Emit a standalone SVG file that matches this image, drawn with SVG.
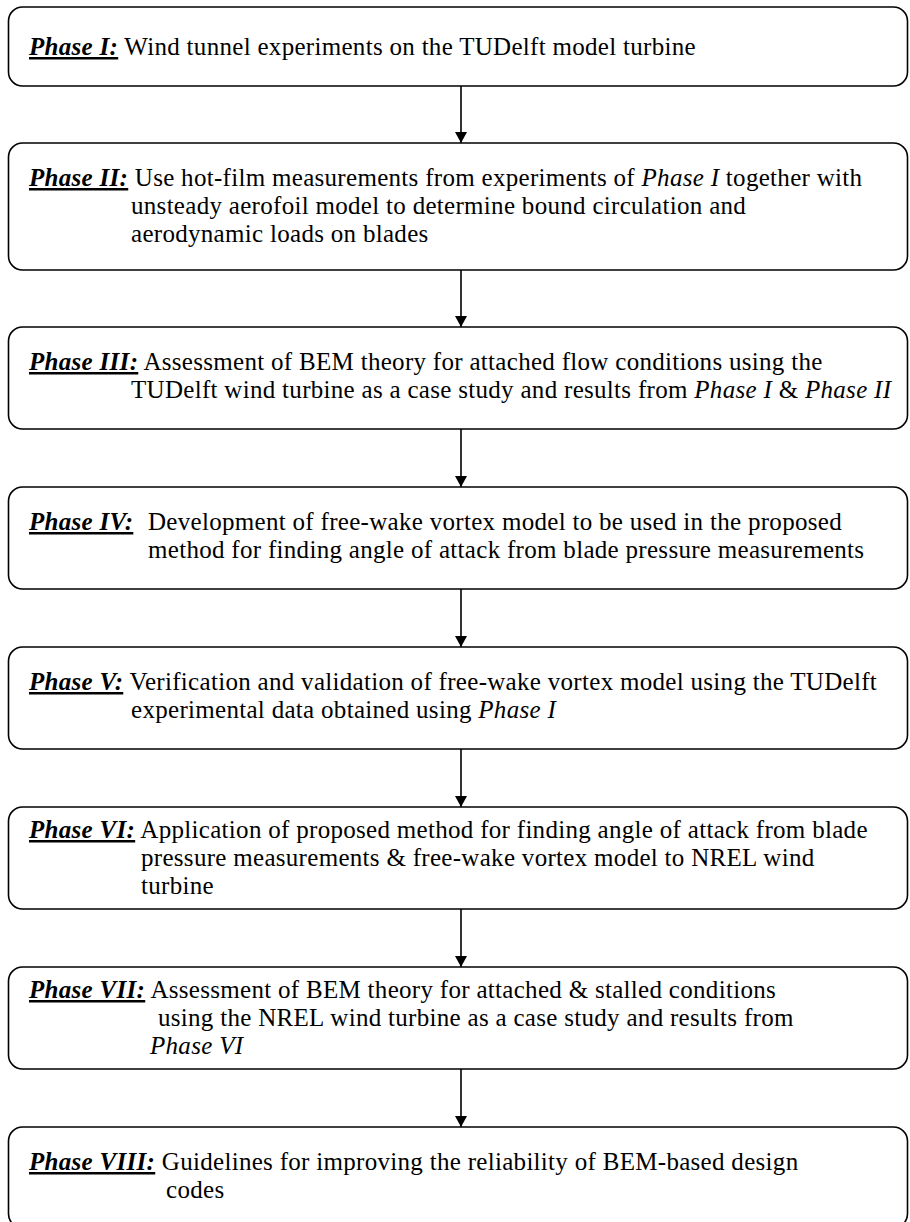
<svg xmlns="http://www.w3.org/2000/svg" width="910" height="1222" viewBox="0 0 910 1222">
<style>
.box{fill:#fff;stroke:#000;stroke-width:1.6}
.t{font-family:"Liberation Serif","Times New Roman",serif;font-size:25px;letter-spacing:0.3px;fill:#000}
.lb{font-weight:bold;font-style:italic;text-decoration:underline}
.it{font-style:italic}
.conn{stroke:#000;stroke-width:1.6;fill:none}
</style>
<defs>
<marker id="ah" markerUnits="userSpaceOnUse" markerWidth="12" markerHeight="12" viewBox="0 0 12 12" refX="11" refY="6" orient="auto">
<path d="M0,0 L11,6 L0,12 z" fill="#000"/>
</marker>
</defs>
<rect width="910" height="1222" fill="#fff"/>
<g id="connectors">
<line class="conn" x1="461" y1="86" x2="461" y2="143" marker-end="url(#ah)"/>
<line class="conn" x1="461" y1="270" x2="461" y2="327" marker-end="url(#ah)"/>
<line class="conn" x1="461" y1="429" x2="461" y2="487" marker-end="url(#ah)"/>
<line class="conn" x1="461" y1="589" x2="461" y2="647" marker-end="url(#ah)"/>
<line class="conn" x1="461" y1="749" x2="461" y2="807" marker-end="url(#ah)"/>
<line class="conn" x1="461" y1="909" x2="461" y2="967" marker-end="url(#ah)"/>
<line class="conn" x1="461" y1="1069" x2="461" y2="1127" marker-end="url(#ah)"/>
</g>
<g id="phase1">
<rect class="box" x="8.5" y="7" width="899" height="79" rx="14"/>
<text class="t" x="29" y="55"><tspan class="lb">Phase I:</tspan> Wind tunnel experiments on the TUDelft model turbine</text>
</g>
<g id="phase2">
<rect class="box" x="8.5" y="143" width="899" height="127" rx="14"/>
<text class="t" x="29" y="186"><tspan class="lb">Phase II:</tspan> Use hot-film measurements from experiments of <tspan class="it">Phase I</tspan> together with</text>
<text class="t" x="131" y="214">unsteady aerofoil model to determine bound circulation and</text>
<text class="t" x="131" y="242">aerodynamic loads on blades</text>
</g>
<g id="phase3">
<rect class="box" x="8.5" y="327" width="899" height="102" rx="14"/>
<text class="t" x="29" y="370"><tspan class="lb">Phase III:</tspan> Assessment of BEM theory for attached flow conditions using the</text>
<text class="t" x="131" y="398">TUDelft wind turbine as a case study and results from <tspan class="it">Phase I</tspan> &amp; <tspan class="it">Phase II</tspan></text>
</g>
<g id="phase4">
<rect class="box" x="8.5" y="487" width="899" height="102" rx="14"/>
<text class="t" x="29" y="530"><tspan class="lb">Phase IV:</tspan><tspan x="148">Development of free-wake vortex model to be used in the proposed</tspan></text>
<text class="t" x="148" y="558">method for finding angle of attack from blade pressure measurements</text>
</g>
<g id="phase5">
<rect class="box" x="8.5" y="647" width="899" height="102" rx="14"/>
<text class="t" x="29" y="690"><tspan class="lb">Phase V:</tspan> Verification and validation of free-wake vortex model using the TUDelft</text>
<text class="t" x="131" y="718">experimental data obtained using <tspan class="it">Phase I</tspan></text>
</g>
<g id="phase6">
<rect class="box" x="8.5" y="807" width="899" height="102" rx="14"/>
<text class="t" x="29" y="838"><tspan class="lb">Phase VI:</tspan> Application of proposed method for finding angle of attack from blade</text>
<text class="t" x="141" y="866">pressure measurements &amp; free-wake vortex model to NREL wind</text>
<text class="t" x="141" y="894">turbine</text>
</g>
<g id="phase7">
<rect class="box" x="8.5" y="967" width="899" height="102" rx="14"/>
<text class="t" x="29" y="998"><tspan class="lb">Phase VII:</tspan> Assessment of BEM theory for attached &amp; stalled conditions</text>
<text class="t" x="158" y="1026">using the NREL wind turbine as a case study and results from</text>
<text class="t it" x="150" y="1054">Phase VI</text>
</g>
<g id="phase8">
<rect class="box" x="8.5" y="1127" width="899" height="101" rx="14"/>
<text class="t" x="29" y="1170"><tspan class="lb">Phase VIII:</tspan> Guidelines for improving the reliability of BEM-based design</text>
<text class="t" x="166" y="1198">codes</text>
</g>
</svg>
